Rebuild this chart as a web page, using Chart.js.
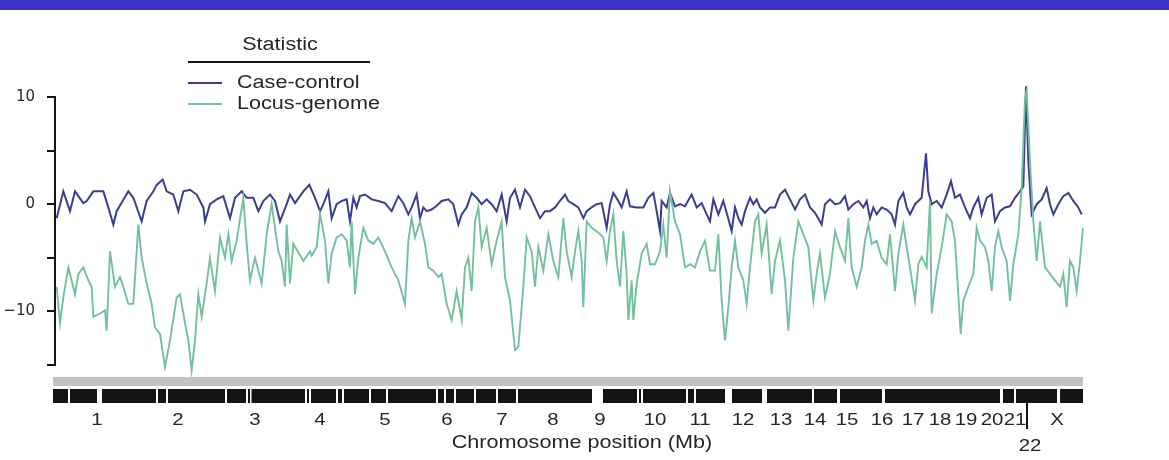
<!DOCTYPE html>
<html><head><meta charset="utf-8">
<script src="https://cdn.jsdelivr.net/npm/chart.js@4"></script>
<style>html,body{margin:0;padding:0;background:#fff}#wrap{position:relative;width:1169px;height:460px}</style>
</head><body><div id="wrap"><canvas id="c"></canvas></div>
<script>
// Genome position (Mb, cumulative) and statistic values
const caseControlPos = [5,25,45,60,85,95,115,145,160,175,185,220,235,260,275,295,305,323,335,355,370,385,405,425,445,450,465,485,505,525,540,560,575,595,610,625,645,660,675,695,705,720,745,763,
780,795,805,820,830,845,860,875,885,895,905,915,930,950,970,990,1010,1030,1045,1060,1070,1085,1095,1105,1115,1130,1145,1160,1180,1195,1210,1220,1235,1250,1265,1280,1295,1310,1325,1340,1355,1365,1380,1395,1410,1425,1440,1455,1470,1485,1500,1515,1530,
1540,1555,1570,1585,1595,1610,1625,1640,1655,1665,1675,1690,1700,1715,1725,1745,1765,1780,1795,1805,1815,1820,1835,1845,1860,1875,1890,1910,1925,1940,1955,1965,1975,1990,2005,2015,2030,2040,2050,2060,2070,2085,2095,2105,2115,2130,2145,2160,2175,2190,2205,2220,2235,2250,2265,2280,
2300,2310,2325,2340,2355,2370,2380,2395,2410,2425,2435,2445,2455,2465,2480,2495,2510,2520,2530,2545,2555,2565,2580,2600,2613,2620,2630,2645,2660,2675,2688,2700,2715,2730,2745,2755,2770,2780,2795,2810,2820,2835,2850,2865,2880,2895,2905,2913,2920,2930,2945,2960,2975,2985,2995,3010,3025,3040,3055,3070,3080];
const caseControlVal = [-1.3,1.2,-0.65,1.2,0.1,0.3,1.2,1.2,-0.3,-1.9,-0.65,1.2,0.6,-1.6,0.3,1.2,1.8,2.3,1.2,0.9,-0.65,1.2,1.35,0.9,-0.3,-1.6,0,0.45,0.75,-1.3,0.6,1.2,0.6,0.6,-0.65,0.3,0.9,0.3,-1.6,0,0.9,0.1,1.2,1.8,
0.6,-0.65,0,1.2,-1.3,0,0.3,0.45,-1.6,0.6,-0.3,0.75,0.9,0.45,0.3,0.1,-0.65,0.75,0.1,-0.95,-0.3,0.9,-1.3,-0.3,-0.65,-0.5,-0.15,0.3,0.45,0,-1.9,-0.95,-0.3,1.05,0.6,0,0.45,0,-0.65,0.9,-1.6,0.6,1.35,-0.3,1.35,0.75,-0.3,-1.3,-0.65,-0.65,-0.3,0.3,0.9,
0.3,0,-0.3,-1.3,-0.65,-0.3,0,0.1,-2.2,0,1.05,0.3,-0.3,1.2,-0.2,-0.3,-0.3,0.6,1.05,-0.65,-2.5,0.3,-0.3,1.05,-0.2,0,-0.2,0.9,-0.3,0.1,-0.95,-1.6,0.45,-0.95,0.3,-0.8,-2.5,-0.3,-1.3,-1.9,-0.65,0.6,0,0.45,-0.3,-0.8,-0.3,-0.3,0.9,1.35,0.45,-0.5,0.45,0.9,-0.3,-0.8,
-1.9,0,0.45,0,0.1,0.75,-0.5,0,0.3,-0.3,0.3,-1.3,-0.3,-0.95,-0.3,-0.5,-0.95,-1.9,0.3,1.05,-0.3,-0.95,0,0.6,4.75,1.2,0,0.3,-0.3,0.9,2.15,0.6,0.9,-0.3,-1.3,-0.3,0.6,-0.95,0.6,0.9,-1.6,-0.65,-0.3,-0.2,0.6,1.2,1.65,11.0,4.0,-0.95,0,0.45,1.5,0,-0.95,0,0.75,1.05,0.3,-0.3,-0.95];

const locusGenomePos = [5,15,25,40,60,70,85,100,110,115,135,150,155,165,180,195,205,220,235,245,250,260,275,290,300,315,330,345,365,375,390,400,410,420,430,440,455,465,480,495,510,520,530,545,565,575,585,600,620,635,650,670,680,690,695,705,715,745,765,
770,785,795,810,820,830,845,860,875,885,890,900,910,925,940,955,970,990,1010,1030,1050,1060,1070,1080,1095,1110,1120,1135,1150,1160,1175,1190,1205,1220,1230,1240,1250,1260,1270,1280,1295,1310,1325,1340,1350,1365,1380,1390,1405,1415,1430,1440,1450,1465,1480,1495,1510,1525,
1535,1550,1560,1570,1580,1585,1595,1610,1630,1645,1655,1665,1675,1685,1695,1705,1715,1720,1730,1735,1745,1760,1775,1785,1800,1815,1825,1835,1845,1860,1875,1890,1905,1920,1935,1950,1965,1980,1990,2000,2010,2020,2030,2040,2050,2065,2075,2085,2100,2110,2120,2135,2150,2160,2175,2190,2200,2215,2230,2245,2260,2275,2285,2295,
2310,2325,2340,2355,2370,2380,2390,2405,2420,2430,2440,2450,2465,2480,2495,2505,2520,2530,2545,2555,2565,2580,2590,2600,2615,2625,2630,2645,2660,2675,2690,2700,2710,2717,2725,2740,2755,2765,2775,2790,2800,2810,2820,2830,2840,2855,2865,2875,2890,2900,2910,2915,2925,2935,2945,2955,2970,2985,3000,3015,3025,3035,3045,3055,3065,3075,3084];
const locusGenomeVal = [-7.7,-11.1,-8.7,-5.9,-8.4,-6.5,-5.9,-7.1,-7.7,-10.5,-10.2,-9.9,-11.8,-4.4,-7.7,-6.8,-7.7,-9.3,-9.3,-4.4,-1.9,-5.0,-7.4,-9.3,-11.5,-12.1,-15.2,-12.7,-8.7,-8.4,-11.1,-12.7,-15.5,-12.7,-8.4,-10.5,-7.4,-5.0,-8.1,-3.1,-5.0,-2.8,-5.3,-3.4,0.6,-3.7,-7.1,-5.0,-7.4,-2.8,0,-4.4,-5.3,-7.7,-1.9,-7.4,-3.7,-5.3,-4.4,
-4.8,-4.0,-0.95,-3.4,-7.4,-4.6,-3.1,-2.8,-3.4,-5.9,-1.6,-8.4,-5.0,-2.2,-3.4,-3.7,-3.1,-4.4,-5.9,-7.1,-9.3,-3.4,-1.3,-3.1,-1.6,-3.7,-5.9,-6.2,-6.8,-6.5,-9.3,-10.8,-8.1,-10.8,-5.9,-5.0,-8.1,-1.6,-0.3,-4.0,-2.2,-5.6,-3.4,-1.6,-6.8,-9.0,-13.6,-13.3,-7.7,-3.1,-4.4,-7.7,-4.0,-6.2,-2.8,-5.3,-6.8,-1.3,
-4.4,-6.8,-4.4,-2.5,-5.3,-9.6,-1.6,-2.2,-2.65,-3.1,-5.3,-2.5,-0.95,-5.3,-7.7,-2.5,-6.5,-10.8,-7.1,-10.8,-7.4,-4.6,-3.7,-5.6,-5.6,-4.4,-1.9,-5.0,1.2,-1.6,-2.8,-5.9,-5.6,-5.9,-4.4,-3.4,-6.2,-6.2,-2.8,-9.0,-12.7,-9.6,-5.9,-3.4,-5.9,-7.1,-9.3,-5.9,-1.6,-0.95,-4.6,-1.9,-8.4,-5.3,-3.4,-7.1,-11.8,-5.0,-1.6,-2.8,-4.0,-9.0,-6.5,-4.6,
-8.7,-6.5,-2.5,-4.0,-5.3,-1.3,-5.9,-7.7,-5.9,-3.4,-1.9,-3.7,-3.4,-5.0,-5.6,-2.8,-8.1,-4.6,-1.9,-4.0,-5.9,-9.0,-5.6,-4.9,-5.9,0.3,-10.2,-6.5,-4.0,-0.95,-1.6,-3.4,-8.4,-12.1,-9.0,-7.7,-6.5,-2.2,-3.4,-4.0,-5.3,-8.1,-4.0,-2.5,-4.0,-5.3,-9.0,-5.6,-2.8,1.5,9.9,10.6,4.0,-1.6,-5.3,-1.6,-5.9,-6.5,-7.1,-7.7,-6.5,-9.6,-5.3,-5.9,-8.1,-5.3,-2.2];

const peakMarkPos = [2913];
const peakMarkVal = [12.6];

const chromosomeLabels = ['1','2','3','4','5','6','7','8','9','10','11','12','13','14','15','16','17','18','19','20','21','22','X'];
const chromosomeLabelPos = [126,369,600,795,990,1176,1341,1494,1635,1800,1935,2064,2178,2280,2376,2481,2574,2655,2733,2811,2880,2925,3006];
const bandGapStart = [39,126,303,333,510,573,585,750,762,843,861,942,993,1143,1167,1197,1257,1323,1383,1611,1746,1758,1893,1917,2010,2121,2271,2346,2481,2835,2877,3006];
const bandGapEnd   = [45,141,309,339,516,579,588,756,768,849,867,948,999,1149,1173,1203,1263,1329,1389,1644,1752,1764,1899,1923,2031,2136,2277,2355,2490,2844,2883,3015];
const chr22TickPos = 2916;
const yTickLabels = {'10':'10','0':'0','-10':'\u221210'};
const legendTitle = 'Statistic';
const xTitle = 'Chromosome position (Mb)';

const BLUE = '#3b3d92', GREEN = '#72c09c', TEXT = '#262626';
const SX = 1.2;
function stretchedText(ctx, txt, x, y, size, align) {
  ctx.save();
  ctx.translate(x, y);
  ctx.scale(SX, 1);
  ctx.font = size + 'px "Liberation Sans", Arial, sans-serif';
  ctx.textAlign = align; ctx.textBaseline = 'middle';
  ctx.fillStyle = TEXT;
  ctx.fillText(txt, 0, 0);
  ctx.restore();
}

const decor = {
  id: 'decor',
  beforeDraw(chart) {
    const ctx = chart.ctx;
    ctx.save();
    ctx.fillStyle = '#3a34c6';
    ctx.fillRect(0, 0, chart.width, 10);
    ctx.restore();
  },
  afterDraw(chart) {
    const ctx = chart.ctx, xs = chart.scales.x;
    const x0 = xs.getPixelForValue(0) - 2, x1 = xs.getPixelForValue(3084);
    ctx.save();
    ctx.fillStyle = '#c3c3c3';
    ctx.fillRect(x0, 377, x1 - x0, 9);
    ctx.fillStyle = '#141414';
    ctx.fillRect(x0, 389, x1 - x0, 14);
    ctx.fillStyle = '#ffffff';
    for (let i = 0; i < bandGapStart.length; i++) {
      const a = xs.getPixelForValue(bandGapStart[i]), b = xs.getPixelForValue(bandGapEnd[i]);
      ctx.fillRect(a, 389, Math.max(1.5, b - a), 14);
    }
    ctx.strokeStyle = '#141414'; ctx.lineWidth = 2;
    const t = xs.getPixelForValue(chr22TickPos);
    ctx.beginPath(); ctx.moveTo(t, 403); ctx.lineTo(t, 429); ctx.stroke();
    ctx.restore();
    chromosomeLabels.forEach((lab, i) => {
      const px = xs.getPixelForValue(chromosomeLabelPos[i]);
      const py = lab === '22' ? 446 : 420;
      stretchedText(ctx, lab, px, py, 17, 'center');
    });
    stretchedText(ctx, xTitle, 582, 443, 18, 'center');
    stretchedText(ctx, legendTitle, 280, 45, 18, 'center');
    ctx.save();
    ctx.strokeStyle = '#141414'; ctx.lineWidth = 2;
    ctx.beginPath(); ctx.moveTo(188, 62); ctx.lineTo(370, 62); ctx.stroke();
    const ds = chart.data.datasets;
    [[0, 83], [1, 104]].forEach(([k, y]) => {
      ctx.strokeStyle = ds[k].borderColor; ctx.lineWidth = 2;
      ctx.beginPath(); ctx.moveTo(188, y); ctx.lineTo(222, y); ctx.stroke();
    });
    ctx.restore();
    stretchedText(ctx, ds[0].label, 237, 83, 18, 'left');
    stretchedText(ctx, ds[1].label, 237, 104, 18, 'left');
  }
};

new Chart(document.getElementById('c'), {
  type: 'line',
  data: {
    datasets: [
      { label: 'Case-control', data: caseControlPos.map((x, i) => ({x, y: caseControlVal[i]})),
        borderColor: BLUE, borderWidth: 2, pointRadius: 0, tension: 0, clip: false, order: 2 },
      { label: 'Locus-genome', data: locusGenomePos.map((x, i) => ({x, y: locusGenomeVal[i]})),
        borderColor: GREEN, borderWidth: 1.9, pointRadius: 0, tension: 0, clip: false, order: 1 },
      { label: 'peak', data: peakMarkPos.map((x, i) => ({x, y: peakMarkVal[i]})),
        showLine: false, pointStyle: 'star', pointRadius: 4, borderColor: '#e24b45', borderWidth: 1.6,
        backgroundColor: '#e24b45', clip: false, order: 0 }
    ]
  },
  options: {
    responsive: true, maintainAspectRatio: false, animation: false,
    layout: { padding: { top: 97, bottom: 95, left: 0, right: 86 } },
    plugins: { legend: { display: false }, tooltip: { enabled: false } },
    scales: {
      x: { type: 'linear', min: 0, max: 3084, display: false },
      y: {
        min: -15, max: 10,
        afterFit(s) { s.width = 55; },
        ticks: { stepSize: 5, padding: 12, color: TEXT,
          font: { family: 'DejaVu Sans', size: 15 },
          callback: v => (yTickLabels[String(v)] !== undefined ? yTickLabels[String(v)] : '') },
        grid: { drawOnChartArea: false, drawTicks: true, tickLength: 8, color: '#141414', lineWidth: 2 },
        border: { display: true, color: '#141414', width: 2 }
      }
    }
  },
  plugins: [decor]
});
</script></body></html>
